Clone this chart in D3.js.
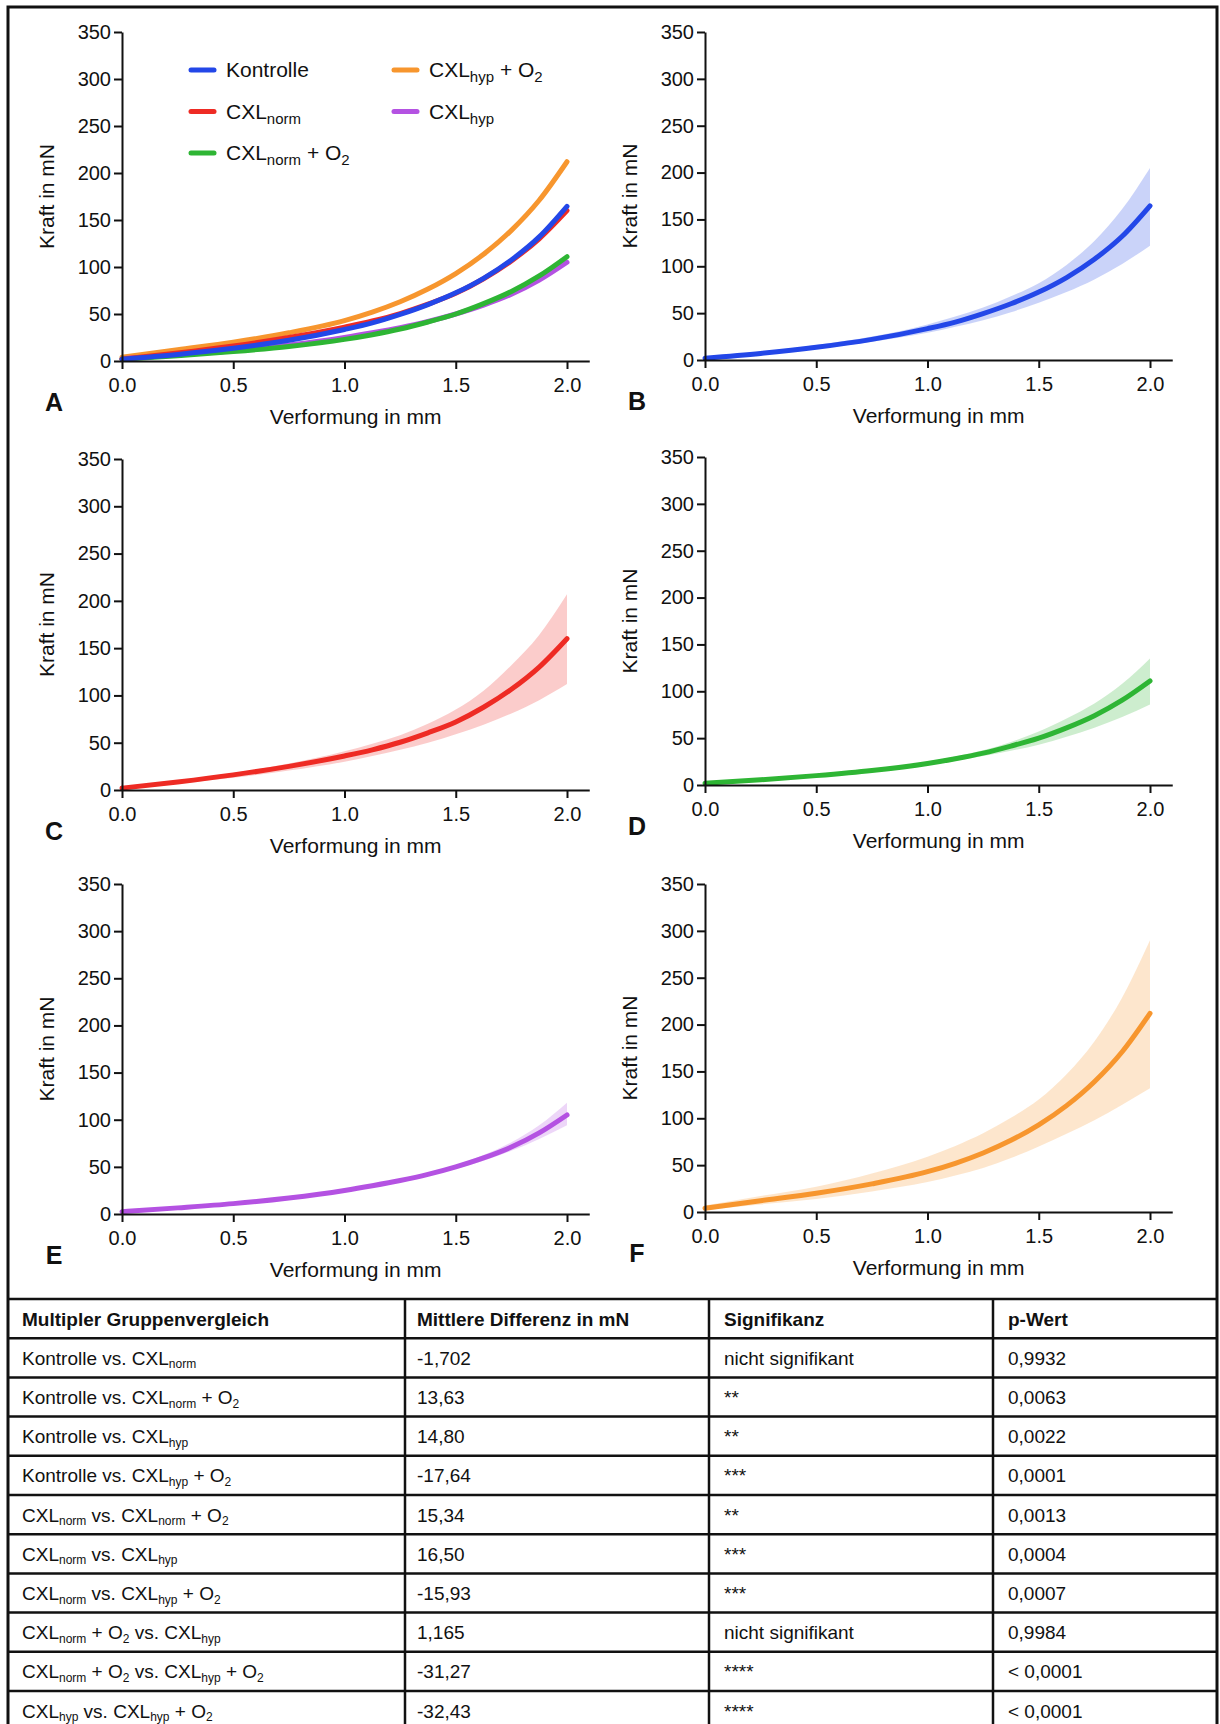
<!DOCTYPE html>
<html>
<head>
<meta charset="utf-8">
<script src="https://cdn.jsdelivr.net/npm/d3@7"></script>
<style>
body { margin: 0; background: #fff; }
svg text { font-family: "Liberation Sans", Arial, Helvetica, sans-serif; fill: #111; }
</style>
</head>
<body>
<svg id="fig" width="1220" height="1724"></svg>
<script>

// Verformung in mm (denser where the curves bend)
var deformation = [0, 0.25, 0.5, 0.75, 1.0, 1.125, 1.25, 1.375, 1.5, 1.625, 1.75, 1.875, 2.0];

// Kraft in mN, mean and band per group
var kontrolle_mean  = [2, 7, 13.5, 22, 33.5, 40.5, 49.5, 60, 72.5, 88, 107.5, 132, 164.5];
var kontrolle_upper = [3, 9, 16, 25, 38, 46.5, 56, 68, 82, 101.5, 127, 161, 205];
var kontrolle_lower = [1.5, 6.5, 12, 19.5, 29, 35.5, 42.5, 51, 61, 72.5, 86, 102.5, 122];

var norm_mean  = [2, 8.5, 16, 25, 36, 42.5, 50.5, 60.5, 72, 87.5, 106.5, 130, 160];
var norm_upper = [3, 10, 18, 28, 41, 49, 58, 70, 85, 105, 132, 164, 207];
var norm_lower = [1.5, 7, 13, 20.5, 30, 36, 42.5, 50, 59, 69, 81, 95, 112];

var normO2_mean  = [2, 5.5, 10, 15.5, 23, 28, 34, 41.5, 50, 61, 74, 90.5, 111];
var normO2_upper = [2.5, 6, 11, 17, 25, 30.5, 37, 46, 57, 71, 87, 108, 135];
var normO2_lower = [1.5, 5, 9, 14.5, 22, 26, 31, 36.5, 43, 51.5, 61, 72.5, 86];

var hyp_mean  = [2.5, 6.5, 11, 17, 25, 30, 35.5, 42, 50, 59.5, 71, 86, 105];
var hyp_upper = [3, 7.5, 12, 18, 26, 31, 37, 44, 52, 62.5, 76, 94, 118];
var hyp_lower = [2, 5.5, 10, 16, 24, 29, 34, 40.5, 48, 56.5, 67, 79.5, 94];

var hypO2_mean  = [4, 12, 20, 30, 43, 52, 63, 76.5, 93, 113.5, 139, 171, 212];
var hypO2_upper = [7, 17, 27, 41, 59, 70.5, 84, 100.5, 120, 147, 182, 229, 290];
var hypO2_lower = [2, 8, 14, 22, 32, 39, 47, 57.5, 70, 83.5, 98, 114.5, 132];

var x_ticks = [0, 0.5, 1.0, 1.5, 2.0];
var y_ticks = [0, 50, 100, 150, 200, 250, 300, 350];

// table
var table_header = ["Multipler Gruppenvergleich", "Mittlere Differenz in mN", "Signifikanz", "p-Wert"];
var table_comparison = [
    "Kontrolle vs. CXL_norm",
    "Kontrolle vs. CXL_norm + O_2",
    "Kontrolle vs. CXL_hyp",
    "Kontrolle vs. CXL_hyp + O_2",
    "CXL_norm vs. CXL_norm + O_2",
    "CXL_norm vs. CXL_hyp",
    "CXL_norm vs. CXL_hyp + O_2",
    "CXL_norm + O_2 vs. CXL_hyp",
    "CXL_norm + O_2 vs. CXL_hyp + O_2",
    "CXL_hyp vs. CXL_hyp + O_2"
];
var table_difference = ["-1,702", "13,63", "14,80", "-17,64", "15,34", "16,50", "-15,93", "1,165", "-31,27", "-32,43"];
var table_significance = ["nicht signifikant", "**", "**", "***", "**", "***", "***", "nicht signifikant", "****", "****"];
var table_pvalue = ["0,9932", "0,0063", "0,0022", "0,0001", "0,0013", "0,0004", "0,0007", "0,9984", "< 0,0001", "< 0,0001"];

function make_group(name, label, mean, upper, lower) {
    return {
        name: name,
        label: label,
        values: deformation.map(function (d, i) {
            return { x: d, y: mean[i], hi: upper[i], lo: lower[i] };
        })
    };
}

var groups = {
    kontrolle: make_group("kontrolle", "Kontrolle", kontrolle_mean, kontrolle_upper, kontrolle_lower),
    norm: make_group("norm", "CXL_norm", norm_mean, norm_upper, norm_lower),
    normO2: make_group("normO2", "CXL_norm + O_2", normO2_mean, normO2_upper, normO2_lower),
    hypO2: make_group("hypO2", "CXL_hyp + O_2", hypO2_mean, hypO2_upper, hypO2_lower),
    hyp: make_group("hyp", "CXL_hyp", hyp_mean, hyp_upper, hyp_lower)
};

var colors = {
    kontrolle: "#2347e8",
    norm: "#ee2b24",
    normO2: "#2eb534",
    hypO2: "#f7962e",
    hyp: "#b452e2"
};

var svg = d3.select("#fig");

// text with _sub parts
function rich_text(sel, str, size, sub_size, shift) {
    var parts = str.split(/(_\w+)/).filter(function (s) { return s.length > 0; });
    var lowered = false;
    parts.forEach(function (p) {
        if (p[0] == "_") {
            sel.append("tspan").attr("font-size", sub_size).attr("dy", shift).text(p.slice(1));
            lowered = true;
        } else {
            var t = sel.append("tspan").attr("font-size", size).text(p);
            if (lowered) { t.attr("dy", -shift); lowered = false; }
        }
    });
}

var panels = [
    { letter: "A", left: 122, bottom: 361, top: 32, show: ["hypO2", "hyp", "normO2", "norm", "kontrolle"], band: false },
    { letter: "B", left: 705, bottom: 360, top: 32, show: ["kontrolle"], band: true },
    { letter: "C", left: 122, bottom: 790, top: 459, show: ["norm"], band: true },
    { letter: "D", left: 705, bottom: 785, top: 457, show: ["normO2"], band: true },
    { letter: "E", left: 122, bottom: 1214, top: 884, show: ["hyp"], band: true },
    { letter: "F", left: 705, bottom: 1212, top: 884, show: ["hypO2"], band: true }
];

var unit = 222.5; // px per mm

function draw_panel(p) {
    var g = svg.append("g");
    var x = d3.scaleLinear().domain([0, 2.1]).range([p.left, p.left + 2.1 * unit]);
    var y = d3.scaleLinear().domain([0, 350]).range([p.bottom, p.top]);

    var area = d3.area()
        .x(function (d) { return x(d.x); })
        .y0(function (d) { return y(d.lo); })
        .y1(function (d) { return y(d.hi); })
        .curve(d3.curveMonotoneX);
    var line = d3.line()
        .x(function (d) { return x(d.x); })
        .y(function (d) { return y(d.y); })
        .curve(d3.curveMonotoneX);

    var data = p.show.map(function (k) { return groups[k]; });

    if (p.band) {
        g.selectAll(".band")
            .data(data)
            .enter()
            .append("path")
            .attr("d", function (d) { return area(d.values); })
            .attr("fill", function (d) { return colors[d.name]; })
            .attr("fill-opacity", 0.24)
            .attr("stroke", "none");
    }

    g.selectAll(".curve")
        .data(data)
        .enter()
        .append("path")
        .attr("d", function (d) { return line(d.values); })
        .attr("stroke", function (d) { return colors[d.name]; })
        .attr("stroke-width", 5)
        .attr("stroke-linecap", "round")
        .attr("fill", "none");

    var xa = g.append("g")
        .attr("transform", "translate(0," + p.bottom + ")")
        .call(d3.axisBottom(x).tickValues(x_ticks).tickFormat(d3.format(".1f"))
            .tickSize(8).tickSizeOuter(0).tickPadding(9));
    var ya = g.append("g")
        .attr("transform", "translate(" + p.left + ",0)")
        .call(d3.axisLeft(y).tickValues(y_ticks).tickSize(8).tickSizeOuter(0).tickPadding(3));

    [xa, ya].forEach(function (a) {
        a.select(".domain").attr("stroke", "#111").attr("stroke-width", 2);
        a.selectAll(".tick line").attr("stroke", "#111").attr("stroke-width", 2);
        a.selectAll(".tick text").attr("font-size", 20).attr("fill", "#111")
            .style("font-family", "'Liberation Sans', Arial, sans-serif");
    });

    g.append("text")
        .attr("x", (x(0) + x(2.1)) / 2)
        .attr("y", p.bottom + 63)
        .attr("text-anchor", "middle")
        .attr("font-size", 21)
        .text("Verformung in mm");

    g.append("text")
        .attr("transform", "translate(" + (p.left - 68) + "," + ((p.top + p.bottom) / 2) + ") rotate(-90)")
        .attr("text-anchor", "middle")
        .attr("font-size", 21)
        .text("Kraft in mN");

    g.append("text")
        .attr("x", p.left - 68)
        .attr("y", p.bottom + 50)
        .attr("text-anchor", "middle")
        .attr("font-size", 25)
        .attr("font-weight", "bold")
        .text(p.letter);
}

panels.forEach(draw_panel);

// legend of panel A
var legend_items = [
    { key: "kontrolle", col: 0, row: 0 },
    { key: "norm", col: 0, row: 1 },
    { key: "normO2", col: 0, row: 2 },
    { key: "hypO2", col: 1, row: 0 },
    { key: "hyp", col: 1, row: 1 }
];
var lg = svg.append("g");
legend_items.forEach(function (it) {
    var lx = it.col == 0 ? 191 : 394;
    var ly = 70 + it.row * 41.5;
    lg.append("line")
        .attr("x1", lx).attr("x2", lx + 23)
        .attr("y1", ly).attr("y2", ly)
        .attr("stroke", colors[it.key])
        .attr("stroke-width", 5)
        .attr("stroke-linecap", "round");
    var t = lg.append("text")
        .attr("x", lx + 35)
        .attr("y", ly + 7);
    rich_text(t, groups[it.key].label, 21, 15, 5);
});

// table
var col_lines = [8, 405, 709, 993, 1217];
var col_text = [22, 417, 724, 1008];
var table_top = 1299;
var row_h = 39.2;

var tg = svg.append("g");
var rows = [table_header].concat(table_comparison.map(function (c, i) {
    return [c, table_difference[i], table_significance[i], table_pvalue[i]];
}));

rows.forEach(function (r, i) {
    var yc = table_top + i * row_h + row_h / 2;
    r.forEach(function (cell, j) {
        var t = tg.append("text")
            .attr("x", col_text[j])
            .attr("y", yc + 7)
            .attr("font-size", 19);
        if (i == 0) {
            t.attr("font-weight", "bold").text(cell);
        } else {
            rich_text(t, cell, 19, 12, 3.5);
        }
    });
});

for (var i = 0; i <= rows.length; i++) {
    tg.append("line")
        .attr("x1", col_lines[0]).attr("x2", col_lines[col_lines.length - 1])
        .attr("y1", table_top + i * row_h).attr("y2", table_top + i * row_h)
        .attr("stroke", "#111").attr("stroke-width", 2.5);
}
col_lines.slice(1, 4).forEach(function (cx) {
    tg.append("line")
        .attr("x1", cx).attr("x2", cx)
        .attr("y1", table_top).attr("y2", table_top + rows.length * row_h)
        .attr("stroke", "#111").attr("stroke-width", 2.5);
});

// outer frame
svg.append("rect")
    .attr("x", 8).attr("y", 7)
    .attr("width", 1209).attr("height", 1740)
    .attr("fill", "none")
    .attr("stroke", "#111")
    .attr("stroke-width", 3);

</script>
</body>
</html>
